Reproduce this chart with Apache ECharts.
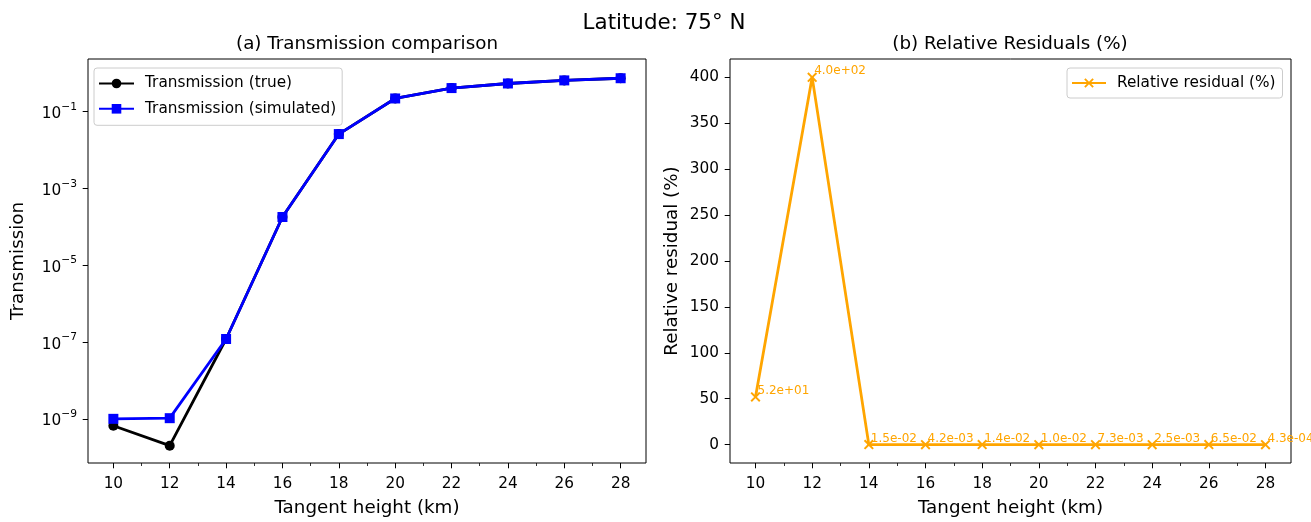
<!DOCTYPE html>
<html>
<head>
<meta charset="utf-8">
<title>Latitude: 75° N</title>
<script src="https://cdn.jsdelivr.net/npm/echarts@6/dist/echarts.min.js"></script>
<style>
  html, body { margin: 0; padding: 0; background: #fff; }
  #main { width: 1311px; height: 522px; }
</style>
</head>
<body>
<div id="main"></div>
<script>
// tangent heights (km)
var heights = [10, 12, 14, 16, 18, 20, 22, 24, 26, 28];
var transTrue = [6.6e-10, 2.0e-10, 1.2e-7, 1.8e-4, 2.6e-2, 0.22, 0.41, 0.54, 0.65, 0.74];
var transSim = [1.0e-9, 1.04e-9, 1.2e-7, 1.8e-4, 2.6e-2, 0.22, 0.41, 0.54, 0.65, 0.74];
var residual = [52, 400, 0.015, 0.0042, 0.014, 0.010, 0.0073, 0.0025, 0.065, 0.00043];

var majorTicks = [10, 12, 14, 16, 18, 20, 22, 24, 26, 28];
var minorTicks = [11, 13, 15, 17, 19, 21, 23, 25, 27];
var logTicks = [1e-9, 1e-7, 1e-5, 1e-3, 1e-1];
var resTicks = [0, 50, 100, 150, 200, 250, 300, 350, 400];

var FONT = '"DejaVu Sans"';
var crossPath = 'path://M0,1.4L1.4,0L5,3.6L8.6,0L10,1.4L6.4,5L10,8.6L8.6,10L5,6.4L1.4,10L0,8.6L3.6,5Z';

function pairs(xs, ys) {
  return xs.map(function (x, i) { return [x, ys[i]]; });
}

// matplotlib style "5.2e+01"
function sci(v) {
  var p = v.toExponential(1).split('e');
  var e = parseInt(p[1], 10);
  var s = e < 0 ? '-' : '+';
  e = Math.abs(e);
  return p[0] + 'e' + s + (e < 10 ? '0' + e : e);
}

function powLabel(v) {
  var e = Math.round(Math.log10(v));
  return '{b|10}{s|' + (e < 0 ? '\u2212' : '') + Math.abs(e) + '}';
}

var tickFont = { fontFamily: FONT, fontSize: 15.3, color: '#000' };
var nameFont = { fontFamily: FONT, fontSize: 18.3, color: '#000' };

function xMajor(grid) {
  return {
    type: 'value', gridIndex: grid, min: 9.1, max: 28.9, position: 'bottom',
    name: 'Tangent height (km)', nameLocation: 'middle', nameGap: 36,
    nameTextStyle: nameFont,
    axisLine: { show: false, onZero: false },
    splitLine: { show: false },
    axisTick: { customValues: majorTicks, length: 5.3, lineStyle: { color: '#000', width: 1 } },
    axisLabel: Object.assign({ customValues: majorTicks, margin: 14 }, tickFont)
  };
}
function xMinor(grid) {
  return {
    type: 'value', gridIndex: grid, min: 9.1, max: 28.9, position: 'bottom',
    axisLine: { show: false, onZero: false },
    splitLine: { show: false },
    axisLabel: { show: false },
    axisTick: { customValues: minorTicks, length: 3, lineStyle: { color: '#000', width: 0.8 } }
  };
}

var option = {
  animation: false,
  backgroundColor: '#fff',
  textStyle: { fontFamily: FONT },
  graphic: [
    { type: 'text', x: 664, y: 23, style: { text: 'Latitude: 75° N', font: '21.4px ' + FONT, fill: '#000', align: 'center', verticalAlign: 'middle' } },
    { type: 'text', x: 367, y: 44, style: { text: '(a) Transmission comparison', font: '18.3px ' + FONT, fill: '#000', align: 'center', verticalAlign: 'middle' } },
    { type: 'text', x: 1010, y: 44, style: { text: '(b) Relative Residuals (%)', font: '18.3px ' + FONT, fill: '#000', align: 'center', verticalAlign: 'middle' } }
  ],
  grid: [
    { left: 88, right: 1311 - 646, top: 59, bottom: 57, show: true, borderColor: '#000', borderWidth: 1, backgroundColor: 'transparent' },
    { left: 730, right: 1311 - 1291, top: 59, bottom: 57, show: true, borderColor: '#000', borderWidth: 1, backgroundColor: 'transparent' }
  ],
  legend: [
    {
      data: ['Transmission (true)', 'Transmission (simulated)'],
      orient: 'vertical', left: 94, top: 68,
      padding: [8, 6, 9, 4], itemGap: 10.3, itemWidth: 35, itemHeight: 12,
      backgroundColor: 'rgba(255,255,255,0.8)', borderColor: '#cccccc', borderWidth: 1, borderRadius: 3,
      textStyle: { fontFamily: FONT, fontSize: 15.3, color: '#000', padding: [0, 0, 0, 6] }
    },
    {
      data: ['Relative residual (%)'],
      orient: 'vertical', left: 1067, top: 68,
      padding: [7.5, 7, 7.5, 4], itemWidth: 34, itemHeight: 12,
      backgroundColor: 'rgba(255,255,255,0.8)', borderColor: '#cccccc', borderWidth: 1, borderRadius: 3,
      textStyle: { fontFamily: FONT, fontSize: 15.3, color: '#000', padding: [0, 0, 0, 6] }
    }
  ],
  xAxis: [xMajor(0), xMinor(0), xMajor(1), xMinor(1)],
  yAxis: [
    {
      type: 'log', gridIndex: 0, min: Math.pow(10, -10.15), max: Math.pow(10, 0.37),
      name: 'Transmission', nameLocation: 'middle', nameGap: 61, nameTextStyle: nameFont,
      axisLine: { show: false },
      splitLine: { show: false },
      axisTick: { customValues: logTicks, length: 5.3, lineStyle: { color: '#000', width: 1 } },
      axisLabel: {
        customValues: logTicks, margin: 11, formatter: powLabel,
        rich: {
          b: { fontFamily: FONT, fontSize: 15.3, color: '#000', lineHeight: 20, verticalAlign: 'bottom' },
          s: { fontFamily: FONT, fontSize: 10.7, color: '#000', lineHeight: 10, verticalAlign: 'top' }
        }
      }
    },
    {
      type: 'value', gridIndex: 1, min: -20, max: 420,
      name: 'Relative residual (%)', nameLocation: 'middle', nameGap: 49, nameTextStyle: nameFont,
      axisLine: { show: false },
      splitLine: { show: false },
      axisTick: { customValues: resTicks, length: 5.3, lineStyle: { color: '#000', width: 1 } },
      axisLabel: Object.assign({ customValues: resTicks, margin: 11 }, tickFont)
    }
  ],
  series: [
    {
      name: 'Transmission (true)', type: 'line', xAxisIndex: 0, yAxisIndex: 0,
      data: pairs(heights, transTrue),
      symbol: 'circle', symbolSize: 10, color: '#000000',
      lineStyle: { width: 2.8 }, z: 2
    },
    {
      name: 'Transmission (simulated)', type: 'line', xAxisIndex: 0, yAxisIndex: 0,
      data: pairs(heights, transSim),
      symbol: 'rect', symbolSize: 10, color: '#0000ff',
      lineStyle: { width: 2.8 }, z: 3
    },
    {
      name: 'Relative residual (%)', type: 'line', xAxisIndex: 2, yAxisIndex: 1,
      data: pairs(heights, residual),
      symbol: crossPath, symbolSize: 10, color: '#ffa500',
      lineStyle: { width: 2.8 }, z: 3,
      label: {
        show: true, position: [7, 5], align: 'left', verticalAlign: 'bottom',
        fontFamily: FONT, fontSize: 12, color: '#ffa500',
        formatter: function (p) { return sci(p.value[1]); }
      }
    }
  ]
};

var chart = echarts.init(document.getElementById('main'));
chart.setOption(option);
</script>
</body>
</html>
